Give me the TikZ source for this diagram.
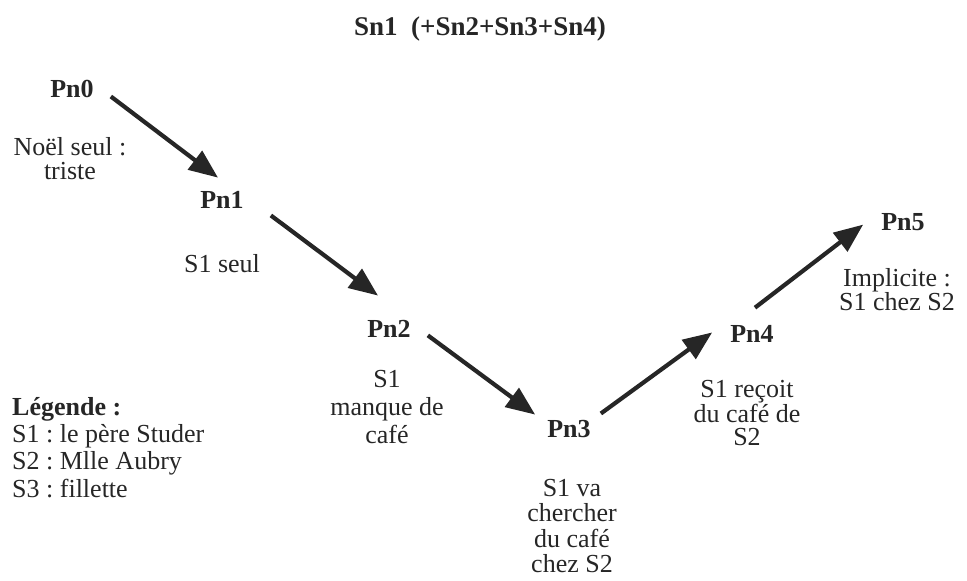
\documentclass[tikz,border=0pt]{standalone}
\usepackage{fontspec}
\setmainfont{Liberation Serif}
\usetikzlibrary{arrows.meta}
\frenchspacing

\tikzset{
    pn/.style = {inner sep=0pt, anchor=base, font=\fontsize{26}{25}\selectfont\bfseries},
    txt/.style = {inner sep=0pt, align=center, anchor=north, font=\fontsize{26}{#1}\selectfont},
    txt/.default = 25,
    arr/.style = {line width=4.2pt, -{Triangle[length=29pt, width=23pt]}}
}

\begin{document}
\begin{tikzpicture}[x=1pt, y=-1pt, color=black!85]
    \useasboundingbox (0, 0) rectangle (967, 581);

    \node [pn, font=\fontsize{27}{25}\selectfont\bfseries] (title) at (480, 35) {Sn1\ \ (+Sn2+Sn3+Sn4)};

    \node [pn] (Pn0) at (72, 97) {Pn0};
    \node [pn] (Pn1) at (222, 208) {Pn1};
    \node [pn] (Pn2) at (389, 337) {Pn2};
    \node [pn] (Pn3) at (569, 437) {Pn3};
    \node [pn] (Pn4) at (752, 342) {Pn4};
    \node [pn] (Pn5) at (903, 230) {Pn5};

    \node [txt=24] (noel) at (70, 137) {Noël seul :\\triste};
    \node [txt, anchor=base] (seul) at (222, 272) {S1 seul};
    \node [txt=28] (manque) at (387, 370) {S1\\manque de\\café};
    \node [txt=25.3] (va) at (572, 479) {S1 va\\chercher\\du café\\chez S2};
    \node [txt=23.5] (recoit) at (747, 380) {S1 reçoit\\du café de\\S2};
    \node [txt=23] (implicite) at (897, 268) {Implicite :\\S1 chez S2};

    \node [txt=27.3, align=left, anchor=north west] (legende) at (12, 397)
        {\textbf{Légende :}\\S1 : le père Studer\\S2 : Mlle Aubry\\S3 : fillette};

    \draw [arr] ([shift={(17, 8)}]Pn0.east) -- ([shift={(-4, -13)}]Pn1.north);
    \draw [arr] ([shift={(27, 16)}]Pn1.east) -- ([shift={(-11, -24)}]Pn2.north);
    \draw [arr] ([shift={(17, 7)}]Pn2.east) -- ([shift={(-12, -5)}]Pn3.north west);
    \draw [arr] ([shift={(10, -15)}]Pn3.east) -- ([shift={(-18, -1)}]Pn4.west);
    \draw [arr] ([shift={(3, -17)}]Pn4.north) -- ([shift={(-18, 3)}]Pn5.west);

\end{tikzpicture}
\end{document}
